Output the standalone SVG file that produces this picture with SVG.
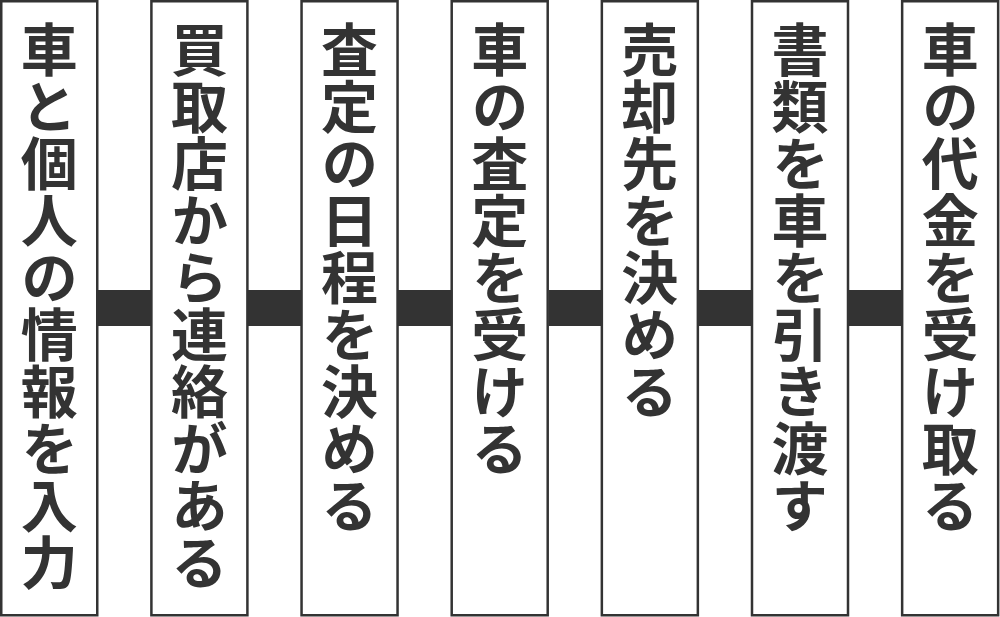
<svg xmlns="http://www.w3.org/2000/svg" width="1000" height="617" viewBox="0 0 1000 617">
<style>
.box{fill:#fff;stroke:#333;stroke-width:2.5}
.bar{fill:#333}
.lbl{font-family:"Noto Sans CJK JP","Noto Sans CJK SC",sans-serif;font-weight:700;font-size:57px;fill:#333;writing-mode:vertical-rl;text-anchor:start}
</style>
<rect width="1000" height="617" fill="#fff"/>
<g id="connectors">
<rect class="bar" x="98" y="290" width="53" height="36"/>
<rect class="bar" x="248" y="290" width="53" height="36"/>
<rect class="bar" x="398" y="290" width="54" height="36"/>
<rect class="bar" x="549" y="290" width="53" height="36"/>
<rect class="bar" x="699" y="290" width="53" height="36"/>
<rect class="bar" x="849" y="290" width="53" height="36"/>
</g>
<g id="n1"><rect class="box" x="1.25" y="1.25" width="96" height="614"/><text class="lbl" x="49.25" y="21">車と個人の情報を入力</text></g>
<g id="n2"><rect class="box" x="151.4" y="1.25" width="96" height="614"/><text class="lbl" x="199.4" y="21">買取店から連絡がある</text></g>
<g id="n3"><rect class="box" x="301.55" y="1.25" width="96" height="614"/><text class="lbl" x="349.55" y="21">査定の日程を決める</text></g>
<g id="n4"><rect class="box" x="451.7" y="1.25" width="96" height="614"/><text class="lbl" x="499.7" y="21">車の査定を受ける</text></g>
<g id="n5"><rect class="box" x="601.85" y="1.25" width="96" height="614"/><text class="lbl" x="649.85" y="21">売却先を決める</text></g>
<g id="n6"><rect class="box" x="752" y="1.25" width="96" height="614"/><text class="lbl" x="800" y="21">書類を車を引き渡す</text></g>
<g id="n7"><rect class="box" x="902.15" y="1.25" width="96" height="614"/><text class="lbl" x="950.15" y="21">車の代金を受け取る</text></g>
</svg>
